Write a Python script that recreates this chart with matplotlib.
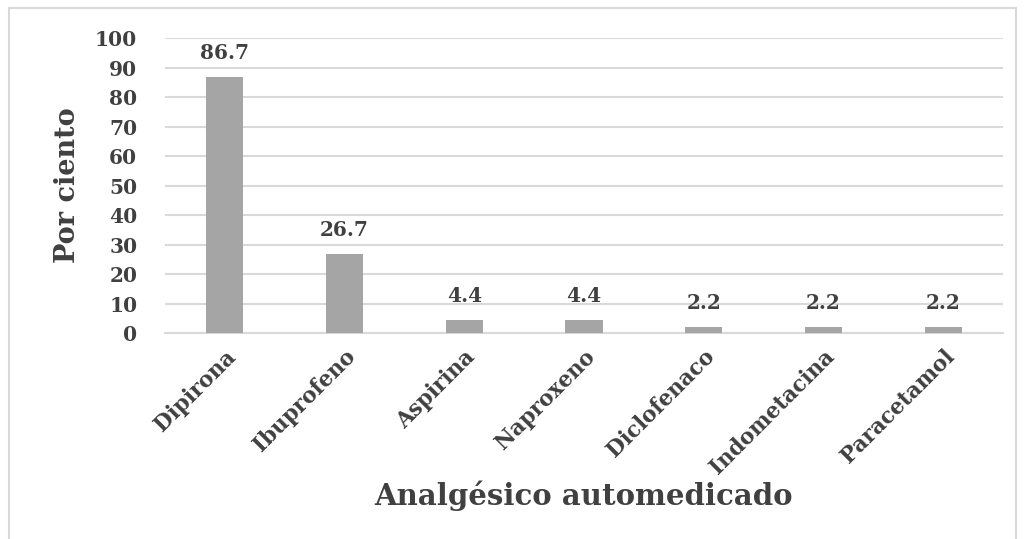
import matplotlib
matplotlib.use("Agg")
import matplotlib.pyplot as plt
from matplotlib.patches import Rectangle

# data
categorias = ["Dipirona", "Ibuprofeno", "Aspirina", "Naproxeno",
              "Diclofenaco", "Indometacina", "Paracetamol"]
porcentajes = [86.7, 26.7, 4.4, 4.4, 2.2, 2.2, 2.2]
y_ticks = [0, 10, 20, 30, 40, 50, 60, 70, 80, 90, 100]

texto = "#404040"
plt.rcParams['font.family'] = ['DejaVu Serif']
plt.rcParams['font.weight'] = 'bold'

fig = plt.figure(figsize=(10.25, 5.39), dpi=100)
ax = fig.add_axes([0.161, 0.382, 0.8175, 0.5475])

# outer frame of the chart
fig.patches.append(Rectangle((0.009, -0.01), 0.982, 0.995, transform=fig.transFigure,
                             fill=False, edgecolor="#d9d9d9", linewidth=1.5))

x = range(len(categorias))
ax.bar(x, porcentajes, width=0.31, color="#a5a5a5", zorder=3)
for xi, v in zip(x, porcentajes):
    ax.annotate(f"{v:.1f}", (xi, v), xytext=(0, 10), textcoords="offset points",
                ha="center", va="bottom", fontsize=14.5, fontweight="bold", color=texto)

ax.set_xlim(-0.5, len(categorias) - 0.5)
ax.set_ylim(0, 100)
ax.set_yticks(y_ticks)
ax.yaxis.grid(True, color="#d9d9d9", linewidth=1.5, zorder=0)
ax.set_axisbelow(True)
for s in ["top", "right", "left"]:
    ax.spines[s].set_visible(False)
ax.spines["bottom"].set_color("#d9d9d9")
ax.spines["bottom"].set_linewidth(1.5)
ax.tick_params(axis="both", length=0, colors=texto)
ax.tick_params(axis="y", pad=20, labelsize=14.5)
ax.tick_params(axis="x", pad=9)
ax.set_xticks(list(x))
ax.set_xticklabels(categorias, rotation=45, ha="right", rotation_mode="anchor",
                   fontsize=15.5, fontweight="bold", color=texto)

ax.set_ylabel("Por ciento", fontsize=19.5, fontweight="bold", color=texto, labelpad=10)
ax.set_xlabel("Analgésico automedicado", fontsize=21, fontweight="bold", color=texto)
ax.xaxis.set_label_coords(0.5, -0.5)

fig.savefig("out.png", dpi=100)
